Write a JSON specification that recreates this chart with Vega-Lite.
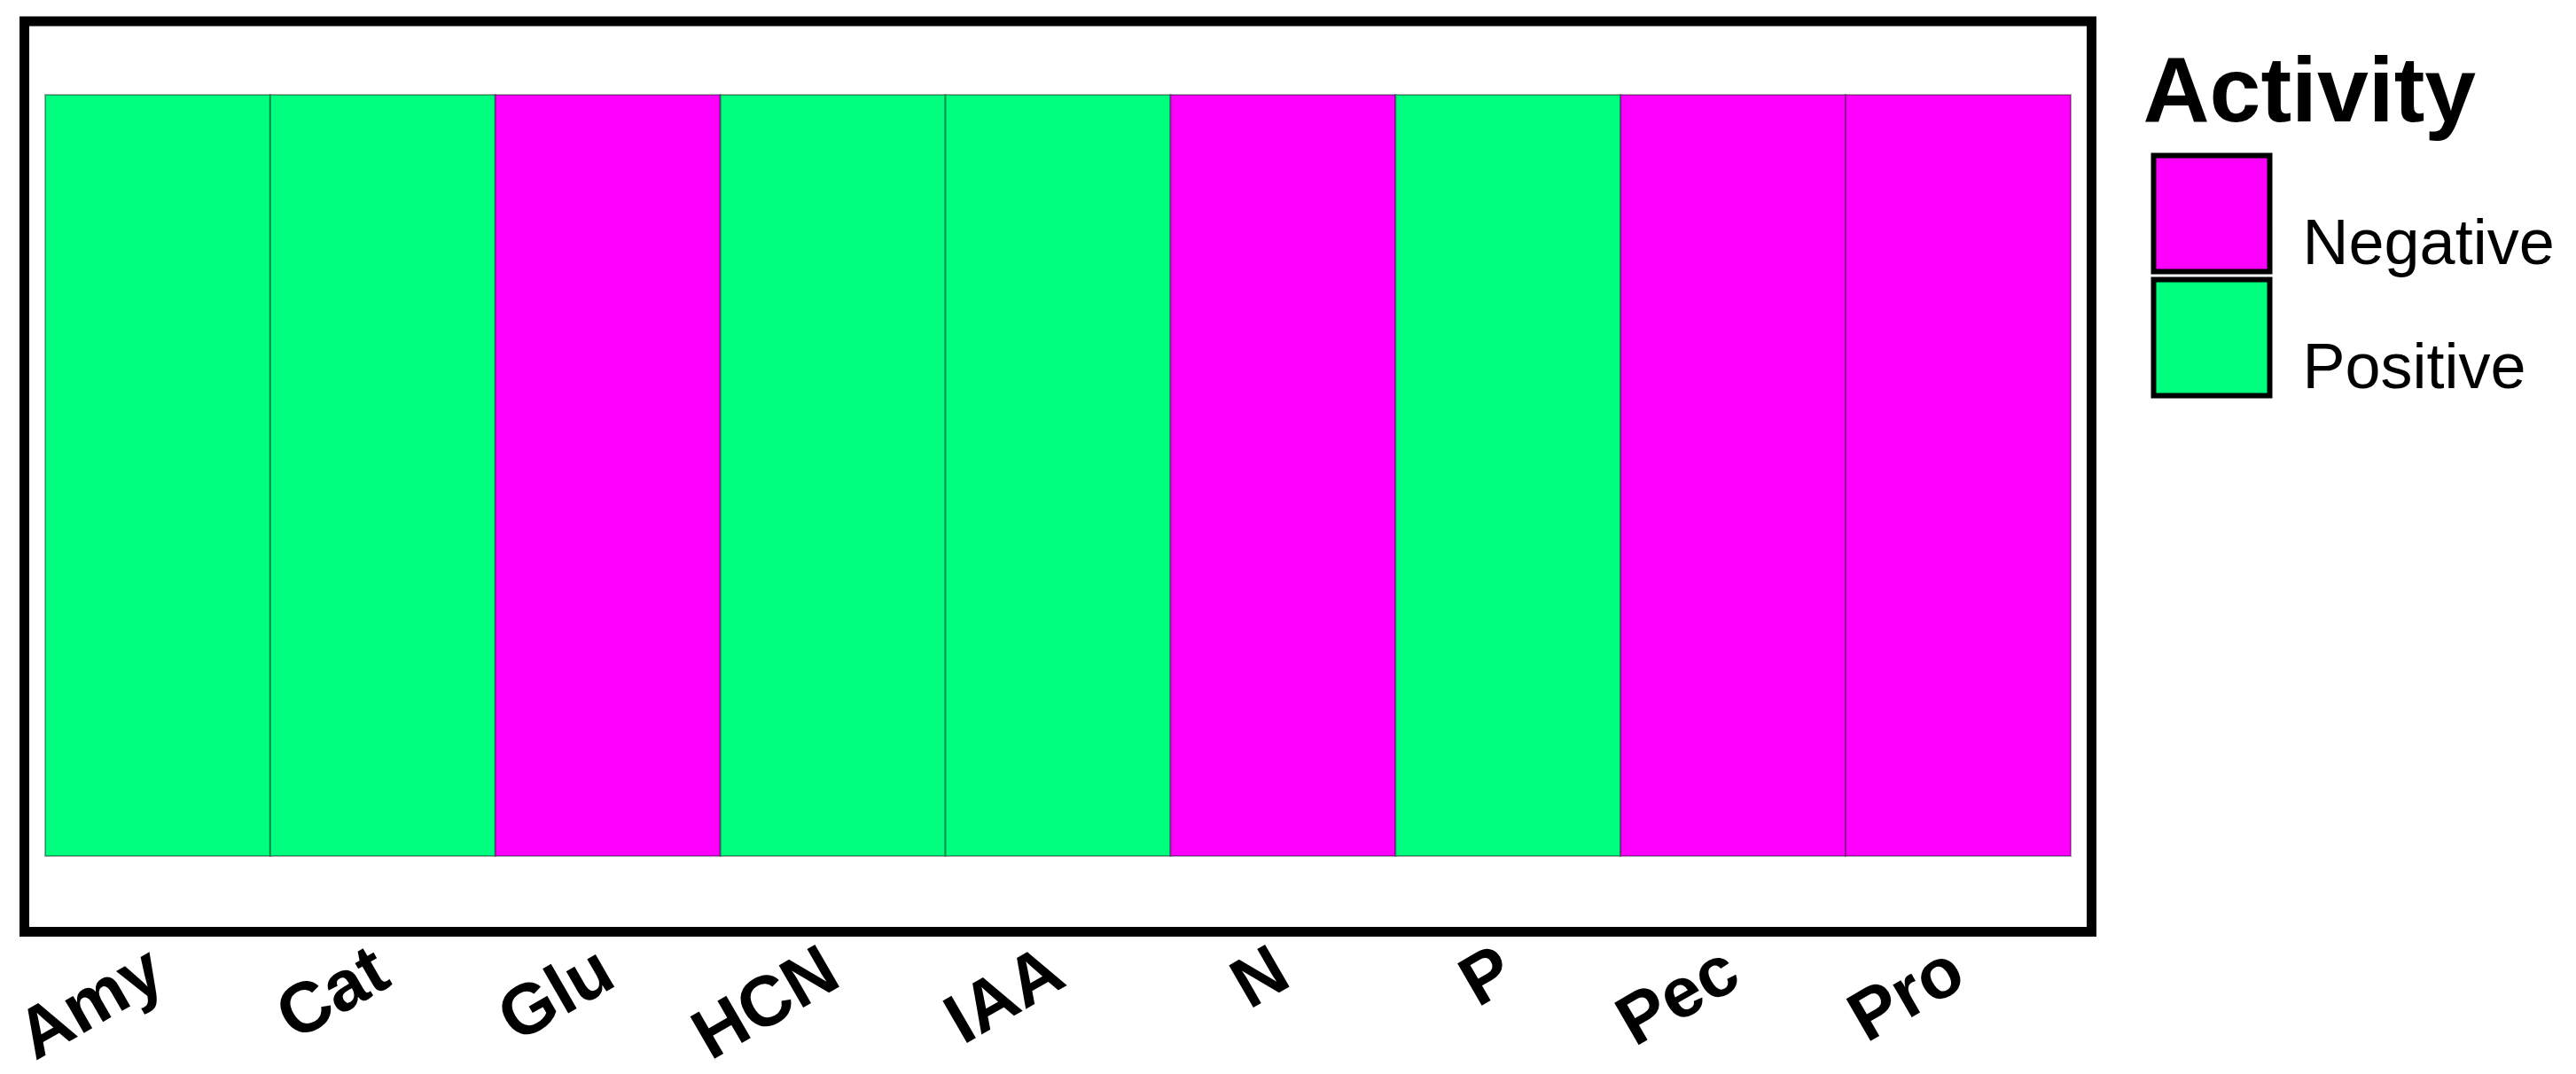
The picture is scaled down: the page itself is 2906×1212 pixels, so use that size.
{
  "$schema": "https://vega.github.io/schema/vega-lite/v6.json",
  "autosize": {"type": "none"},
  "width": 2332,
  "height": 1027.5,
  "padding": {"left": 27.5, "top": 24, "right": 546.5, "bottom": 160.5},
  "background": "white",
  "view": {"stroke": "black", "strokeWidth": 11, "fill": "white"},
  "data": {
    "values": [
      {"Test": "Amy", "Activity": "Positive"},
      {"Test": "Cat", "Activity": "Positive"},
      {"Test": "Glu", "Activity": "Negative"},
      {"Test": "HCN", "Activity": "Positive"},
      {"Test": "IAA", "Activity": "Positive"},
      {"Test": "N", "Activity": "Negative"},
      {"Test": "P", "Activity": "Positive"},
      {"Test": "Pec", "Activity": "Negative"},
      {"Test": "Pro", "Activity": "Negative"}
    ]
  },
  "mark": {"type": "rect", "stroke": "black", "strokeOpacity": 0.35, "strokeWidth": 2},
  "encoding": {
    "x": {
      "field": "Test",
      "type": "nominal",
      "sort": null,
      "scale": {"paddingInner": 0, "paddingOuter": 0.0925},
      "axis": {
        "title": null,
        "ticks": false,
        "domain": false,
        "labelAngle": -30,
        "labelAlign": "right",
        "labelBaseline": "middle",
        "labelFont": "Liberation Sans",
        "labelFontWeight": "bold",
        "labelFontSize": 80,
        "labelColor": "black",
        "labelPadding": 38,
        "labelOverlap": false,
        "labelFlush": false,
        "labelBound": false,
        "labelLimit": 1000,
        "grid": false
      }
    },
    "y": {
      "datum": 0,
      "type": "quantitative",
      "scale": {"domain": [-0.0995, 1.0966], "nice": false, "zero": false},
      "axis": null
    },
    "y2": {"datum": 1},
    "color": {
      "field": "Activity",
      "type": "nominal",
      "scale": {"domain": ["Negative", "Positive"], "range": ["#ff00ff", "#00ff7f"]},
      "legend": {
        "title": "Activity",
        "orient": "none",
        "legendX": 2390,
        "legendY": 31,
        "padding": 0,
        "titleFont": "Liberation Sans",
        "titleFontWeight": "bold",
        "titleFontSize": 104,
        "titleColor": "black",
        "titleLimit": 2000,
        "titlePadding": 13,
        "labelFont": "Liberation Sans",
        "labelFontSize": 72,
        "labelColor": "black",
        "labelOffset": 34,
        "labelBaseline": "top",
        "labelLimit": 1000,
        "symbolType": "square",
        "symbolSize": 17161,
        "symbolStrokeColor": "black",
        "symbolStrokeWidth": 6,
        "symbolOpacity": 1,
        "symbolOffset": 9,
        "clipHeight": 138,
        "rowPadding": -5
      }
    }
  }
}
